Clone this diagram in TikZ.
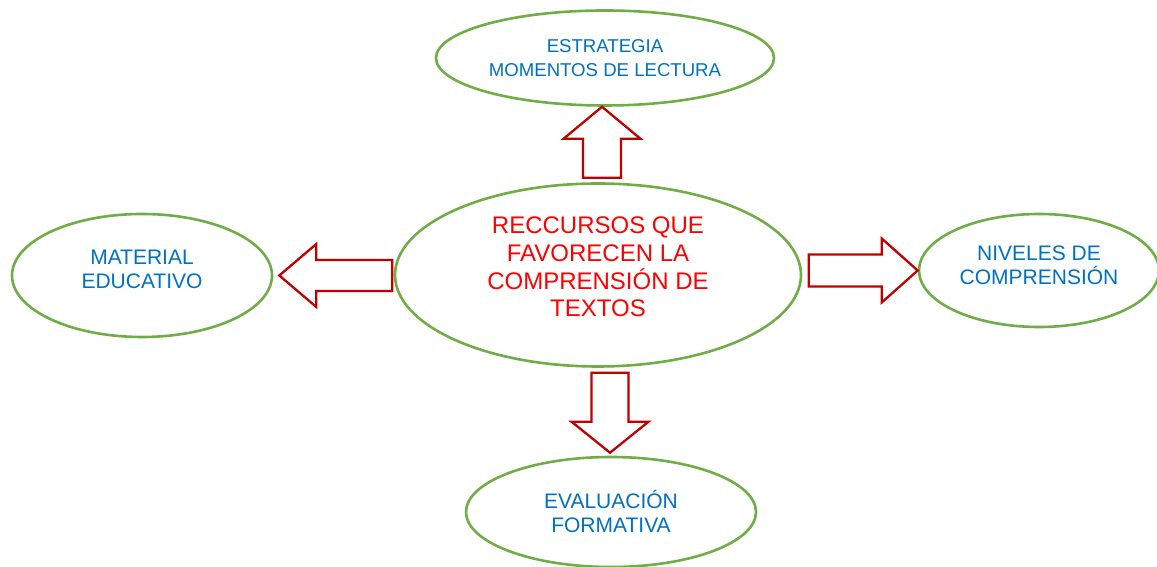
\documentclass[tikz,border=0pt]{standalone}
\usepackage{fontspec}
\setmainfont{Liberation Sans}
\usetikzlibrary{shapes.geometric}
\definecolor{verde}{HTML}{70AD47}
\definecolor{azulw}{HTML}{0070C0}
\definecolor{rojow}{HTML}{C00000}
\tikzset{
	% ellipses
	elipse/.style={ellipse,draw=verde,line width=2.6pt,inner sep=0pt},
	% texts
	azul/.style={text=azulw,align=center,font=\fontsize{21}{24}\selectfont},
	rojo/.style={text=red,align=center,font=\fontsize{24}{27.7}\selectfont},
	% block arrows
	flecha/.style={draw=rojow,line width=2.3pt,line join=miter},
}
\begin{document}
\begin{tikzpicture}[x=1pt,y=1pt]
	\useasboundingbox (0,0) rectangle (1157,567);
	
	\node[elipse,minimum width=406,minimum height=183,
		label={[rojo,yshift=8pt]center:{RECCURSOS QUE\\FAVORECEN LA\\COMPRENSIÓN DE\\TEXTOS}}] (centro) at (598,292) {};
	\node[elipse,minimum width=338,minimum height=95,
		label={[azul,font=\fontsize{18.6}{24}\selectfont]center:{ESTRATEGIA\\MOMENTOS DE LECTURA}}] (estrategia) at (605,509) {};
	\node[elipse,minimum width=260,minimum height=123,
		label={[azul,yshift=6.5pt]center:{MATERIAL\\EDUCATIVO}}] (material) at (142,291.5) {};
	\node[elipse,minimum width=240,minimum height=113,
		label={[azul,yshift=5.5pt]center:{NIVELES DE\\COMPRENSIÓN}}] (niveles) at (1039,296.5) {};
	\node[elipse,minimum width=290,minimum height=110,
		label={[azul,yshift=0.5pt]center:{EVALUACIÓN\\FORMATIVA}}] (evaluacion) at (611,55) {};
	
	% up
	\draw[flecha] ([xshift=-3pt]estrategia.south) -- ++(-38.5,-32) -- ++(19.5,0) -- ++(0,-39) -- ++(38,0) -- ++(0,39) -- ++(19.5,0) -- cycle;
	% right
	\draw[flecha] (niveles.west) -- ++(-36,32) -- ++(0,-16) -- ++(-73,0) -- ++(0,-32) -- ++(73,0) -- ++(0,-16) -- cycle;
	% left
	\draw[flecha] ([xshift=6pt]material.east) -- ++(37,31.5) -- ++(0,-16) -- ++(76,0) -- ++(0,-31) -- ++(-76,0) -- ++(0,-16) -- cycle;
	% down
	\draw[flecha] ([xshift=-1pt,yshift=3pt]evaluacion.north) -- ++(-38.5,31) -- ++(20,0) -- ++(0,49) -- ++(37,0) -- ++(0,-49) -- ++(20,0) -- cycle;
	
\end{tikzpicture}
\end{document}
